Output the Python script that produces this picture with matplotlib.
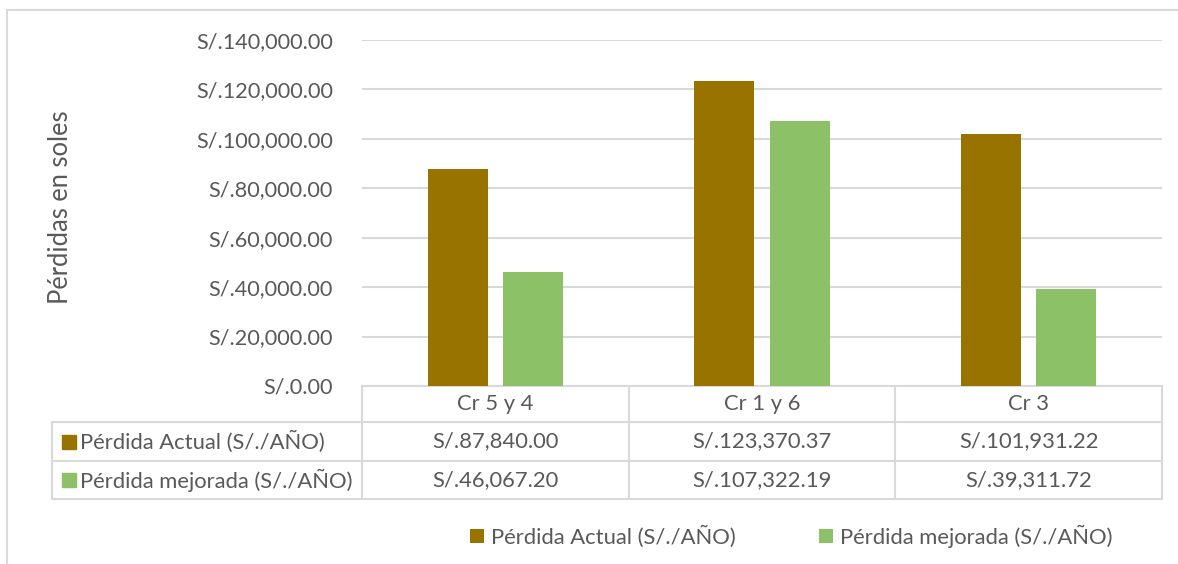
import matplotlib.pyplot as plt
import matplotlib.transforms as mtrans
from matplotlib.patches import Rectangle

categories = ["Cr 5 y 4", "Cr 1 y 6", "Cr 3"]
series_names = ["Pérdida Actual (S/./AÑO)", "Pérdida mejorada (S/./AÑO)"]
actual = [87840.00, 123370.37, 101931.22]
mejorada = [46067.20, 107322.19, 39311.72]
y_ticks = [0, 20000, 40000, 60000, 80000, 100000, 120000, 140000]
y_label = "Pérdidas en soles"

W, H = 1178, 564
BROWN = "#997300"
GREEN = "#8CC168"
TXT = "#595959"
LINE = "#d9d9d9"
FS = 15.8

plt.rcParams["font.family"] = ["Lato", "DejaVu Sans"]

fmt = lambda v: f"S/.{v:,.2f}"

fig = plt.figure(figsize=(W / 100, H / 100), dpi=100)
# overlay in pixel coords for the frame, table and label
tab = fig.add_axes([0, 0, 1, 1], zorder=-1)
tab.set_xlim(0, W)
tab.set_ylim(H, 0)
tab.axis("off")

ax = fig.add_axes([362 / W, (H - 386) / H, 800 / W, 346 / H])
x = list(range(len(categories)))
bw, off = 0.225, 0.141
b1 = ax.bar([i - off for i in x], actual, bw, color=BROWN, zorder=3)
b2 = ax.bar([i + off for i in x], mejorada, bw, color=GREEN, zorder=3)
ax.set_xlim(-0.5, len(categories) - 0.5)
ax.set_ylim(0, 140000)
ax.set_yticks(y_ticks)
ax.set_yticklabels([fmt(v) for v in y_ticks])
ax.set_xticks([])
ax.tick_params(axis="y", length=0, pad=21, labelsize=15.6, labelcolor=TXT)
ax.grid(axis="y", color=LINE, lw=1.5, zorder=0)
for s in ax.spines.values():
    s.set_visible(False)

# outer frame
tab.plot([7, 7], [10, H], color=LINE, lw=1.5)
tab.plot([7, W], [10, 10], color=LINE, lw=1.5)

tab.text(60, 207, y_label, rotation=90, ha="center", va="center",
         fontsize=18.4, color=TXT)

# data table below the plot
blend = mtrans.blended_transform_factory(ax.transData, tab.transData)
y_top, y_r1, y_r2, y_bot = 386, 422, 461, 499
x_lab = 52
kw = dict(color=LINE, lw=1.5, clip_on=False)
tab.plot([362, 1162], [y_top, y_top], **kw)
for yy in (y_r1, y_r2, y_bot):
    tab.plot([x_lab, 1162], [yy, yy], **kw)
tab.plot([x_lab, x_lab], [y_r1, y_bot], **kw)
for e in range(len(categories) + 1):
    tab.plot([e - 0.5, e - 0.5], [y_top, y_bot], transform=blend, **kw)

rows = [(series_names[0], BROWN, actual), (series_names[1], GREEN, mejorada)]
for i, c in enumerate(categories):
    tab.text(i, (y_top + y_r1) / 2, c, transform=blend, ha="center",
             va="center", fontsize=FS, color=TXT)
for (name, col, vals), (ya, yb) in zip(rows, [(y_r1, y_r2), (y_r2, y_bot)]):
    yc = (ya + yb) / 2
    tab.add_patch(Rectangle((62, yc - 7), 14, 14, color=col))
    tab.text(80, yc, name, ha="left", va="center", fontsize=FS, color=TXT)
    for i, v in enumerate(vals):
        tab.text(i, yc, fmt(v), transform=blend, ha="center", va="center",
                 fontsize=FS, color=TXT)

fig.legend([b1, b2], series_names, loc="center left",
           bbox_to_anchor=(470 / W, 1 - 536 / H), ncol=2, frameon=False,
           fontsize=FS, labelcolor=TXT, handlelength=0.64, handleheight=0.64,
           handletextpad=0.32, columnspacing=3.8, borderpad=0,
           borderaxespad=0)

fig.savefig("out.png", dpi=100)
